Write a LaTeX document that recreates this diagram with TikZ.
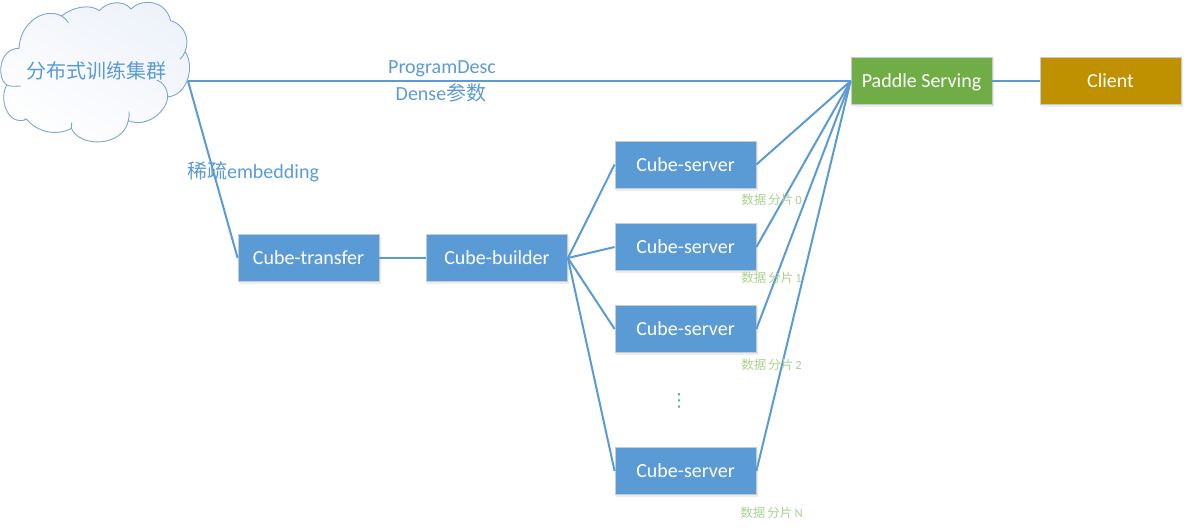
\documentclass[tikz,border=0pt]{standalone}
\usepackage{fontspec}
\setmainfont{Carlito}
\newfontfamily\cjk{Noto Sans CJK SC}
\newfontfamily\symb{DejaVu Sans}
\definecolor{lineblue}{HTML}{5B9BD5}
\definecolor{edgegrey}{HTML}{C3CBD3}
\definecolor{pgreen}{HTML}{70AD47}
\definecolor{cgold}{HTML}{BF9000}
\definecolor{lblgreen}{HTML}{A9D18E}
\definecolor{cloudline}{HTML}{7FA6CF}
\definecolor{cloudtint}{HTML}{EEF2FA}
\tikzset{
  box/.style={draw=edgegrey,line width=0.8pt,minimum width=141pt,minimum height=47pt,inner sep=0pt,
    text height=16pt,text depth=3pt,
    text=white,font=\fontsize{20}{22}\selectfont,anchor=center,
    preaction={draw=black!7,fill=black!7,line width=1pt,transform canvas={shift={(1.2pt,-2.2pt)}}}},
  bluebox/.style={box,fill=lineblue},
  conn/.style={draw=lineblue,line width=2pt},
  bluetext/.style={text=lineblue,font=\fontsize{20}{22}\selectfont,inner sep=0pt},
  shard/.style={text=lblgreen,font=\fontsize{12.5}{14}\selectfont,inner sep=0pt},
  cloudedge/.style={draw=cloudline,line width=0.9pt},
}
\newcommand{\zp}[2]{({#1/3},{#2/3})}
\begin{document}
\begin{tikzpicture}[x=1pt,y=-1pt]
\useasboundingbox (0,0) rectangle (1188,528);
% cloud
\path[cloudedge,top color=cloudtint,bottom color=white,shading angle=-30]
  \zp{57}{145} .. controls \zp{60}{70} and \zp{130}{20} .. \zp{185}{48}
  .. controls \zp{215}{22} and \zp{270}{10} .. \zp{298}{32}
  .. controls \zp{320}{5} and \zp{370}{-2} .. \zp{393}{27}
  .. controls \zp{420}{-3} and \zp{495}{-5} .. \zp{512}{62}
  .. controls \zp{550}{72} and \zp{572}{115} .. \zp{555}{155}
  .. controls \zp{585}{195} and \zp{565}{285} .. \zp{503}{291}
  .. controls \zp{500}{335} and \zp{440}{385} .. \zp{385}{362}
  .. controls \zp{370}{440} and \zp{240}{445} .. \zp{214}{385}
  .. controls \zp{170}{410} and \zp{110}{395} .. \zp{80}{358}
  .. controls \zp{25}{380} and \zp{-5}{300} .. \zp{20}{255}
  .. controls \zp{-10}{235} and \zp{-5}{145} .. \zp{57}{145} -- cycle;
\draw[cloudedge] \zp{185}{48} .. controls \zp{192}{52} and \zp{200}{60} .. \zp{205}{68};
\draw[cloudedge] \zp{555}{155} .. controls \zp{552}{163} and \zp{547}{171} .. \zp{540}{178};
\draw[cloudedge] \zp{470}{240} .. controls \zp{490}{245} and \zp{503}{268} .. \zp{503}{291};
\draw[cloudedge] \zp{385}{362} .. controls \zp{388}{352} and \zp{388}{345} .. \zp{387}{335};
\draw[cloudedge] \zp{214}{385} .. controls \zp{217}{378} and \zp{216}{374} .. \zp{215}{368};
\draw[cloudedge] \zp{80}{358} .. controls \zp{76}{358} and \zp{74}{358} .. \zp{72}{357};
\draw[cloudedge] \zp{20}{255} .. controls \zp{30}{259} and \zp{45}{260} .. \zp{62}{258};
\node[bluetext,font=\cjk\fontsize{20}{22}\selectfont] (cloud) at (96,71) {分布式训练集群};
\coordinate (cloudout) at (188,81);
% boxes
\node[bluebox] (transfer) at (308.5,258) {Cube-transfer};
\node[bluebox] (builder) at (497,258) {Cube-builder};
\node[bluebox] (s0) at (685.5,164.5) {Cube-server};
\node[bluebox] (s1) at (685.5,247) {Cube-server};
\node[bluebox] (s2) at (685.5,329) {Cube-server};
\node[bluebox] (sn) at (685.5,471) {Cube-server};
\node[box,fill=pgreen] (paddle) at (921.5,81) {Paddle Serving};
\node[box,fill=cgold] (client) at (1110.5,81) {Client};
% connectors
\draw[conn] (cloudout) -- (paddle.west);
\draw[conn] (cloudout) -- (transfer.west);
\draw[conn] (transfer.east) -- (builder.west);
\foreach \s in {s0,s1,s2,sn}{
  \draw[conn] (builder.east) -- (\s.west);
  \draw[conn] (\s.east) -- (paddle.west);
}
\draw[conn] (paddle.east) -- (client.west);
% labels
\node[bluetext] (pd) at (442,69) {ProgramDesc};
\node[bluetext] (dn) at (441,93) {Dense{\cjk 参数}};
\node[bluetext] (sp) at (253,171.5) {{\cjk 稀疏}embedding};
\node[bluetext,font=\symb\fontsize{18}{20}\selectfont] (dots) at (679,401) {⋮};
\node[shard] (l0) at (771.5,200) {{\cjk 数据}\,{\cjk 分片}\,0};
\node[shard] (l1) at (771.5,277.5) {{\cjk 数据}\,{\cjk 分片}\,1};
\node[shard] (l2) at (771.5,364.5) {{\cjk 数据}\,{\cjk 分片}\,2};
\node[shard] (ln) at (771.5,512.5) {{\cjk 数据}\,{\cjk 分片}\,N};
\end{tikzpicture}
\end{document}
